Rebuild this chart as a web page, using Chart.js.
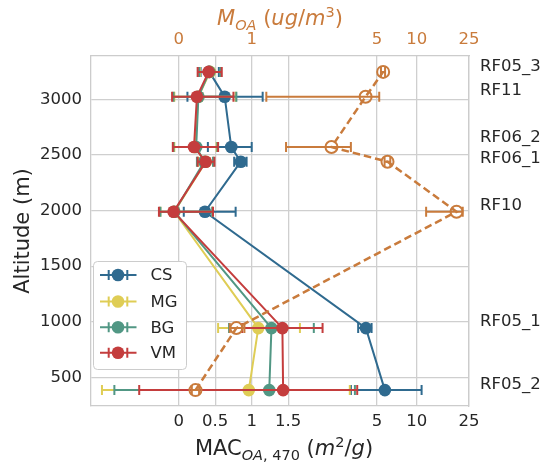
<!DOCTYPE html>
<html>
<head>
<meta charset="utf-8">
<script src="https://cdn.jsdelivr.net/npm/chart.js@4.4.1/dist/chart.umd.min.js"></script>
<style>
  html, body { margin: 0; padding: 0; background: #fff; }
  #wrap { width: 545px; height: 466px; }
</style>
</head>
<body>
<div id="wrap"><canvas id="profile" width="545" height="466"></canvas></div>
<script>
// flights, sorted by altitude (m)
const flights = ['RF05_2', 'RF05_1', 'RF10', 'RF06_1', 'RF06_2', 'RF11', 'RF05_3'];
const altitude = [385, 943, 1990, 2440, 2572, 3025, 3248];
const labelAltitude = [431, 1000, 2043, 2469, 2658, 3083, 3298];

// MAC_OA,470 (m2/g) per source, with lower / upper error ends
const csMac  = [5.73, 4.11, 0.36, 0.85, 0.72, 0.63, 0.42];
const csLow  = [3.16, 3.59, 0.07, 0.76, 0.40, 0.12, 0.30];
const csHigh = [10.9, 4.54, 0.78, 0.93, 1.00, 1.15, 0.55];

const mgMac  = [0.96, 1.09, -0.06, 0.37, 0.22, 0.27, 0.43];
const mgLow  = [-1.05, 0.54, -0.25, 0.27, -0.06, -0.06, 0.29];
const mgHigh = [3.10, 1.66, 0.46, 0.48, 0.52, 0.78, 0.58];

const bgMac  = [1.24, 1.27, -0.06, 0.35, 0.24, 0.27, 0.42];
const bgLow  = [-0.88, 0.69, -0.25, 0.25, -0.07, -0.07, 0.28];
const bgHigh = [3.39, 1.85, 0.46, 0.47, 0.53, 0.79, 0.57];

const vmMac  = [1.43, 1.42, -0.07, 0.37, 0.21, 0.25, 0.41];
const vmLow  = [-0.54, 0.87, -0.27, 0.26, -0.08, -0.09, 0.26];
const vmHigh = [3.53, 1.97, 0.47, 0.49, 0.54, 0.75, 0.59];

// M_OA (ug/m3)
const moa     = [0.23, 0.79, 20.1, 6.0, 2.25, 4.09, 5.56];
const moaLow  = [0.18, 0.70, 11.8, 5.7, 1.47, 1.20, 5.35];
const moaHigh = [0.28, 0.90, 22.4, 6.3, 3.16, 5.19, 5.75];

const macTicks = [0, 0.5, 1, 1.5, 5, 10, 25];
const moaTicks = [0, 1, 5, 10, 25];
const altTicks = [500, 1000, 1500, 2000, 2500, 3000];

const FONT = "'DejaVu Sans', sans-serif";
const INK = '#262626';
const ORANGE = '#c97b3c';
const GRID = '#cfcfcf';

// symmetric log, linthresh 2, linscale 1
const LINTHRESH = 2;
const LINADJ = 1 / (1 - 1 / 10);
function symlog(v) {
  const a = Math.abs(v);
  if (a <= LINTHRESH) return v * LINADJ;
  return Math.sign(v) * LINTHRESH * (LINADJ + Math.log10(a / LINTHRESH));
}
function invSymlog(u) {
  const a = Math.abs(u);
  if (a <= LINTHRESH * LINADJ) return u / LINADJ;
  return Math.sign(u) * LINTHRESH * Math.pow(10, a / LINTHRESH - LINADJ);
}

const tickSets = { x: macTicks, x2: moaTicks };

class SymlogScale extends Chart.LinearScale {
  determineDataLimits() {
    this.min = this.options.min;
    this.max = this.options.max;
  }
  buildTicks() {
    return (tickSets[this.id] || []).map(v => ({ value: v }));
  }
  configure() {
    super.configure();
    this._umin = symlog(this.min);
    this._urange = symlog(this.max) - this._umin;
  }
  getPixelForValue(v) {
    return this.getPixelForDecimal((symlog(v) - this._umin) / this._urange);
  }
  getValueForPixel(p) {
    return invSymlog(this._umin + this.getDecimalForPixel(p) * this._urange);
  }
}
SymlogScale.id = 'symlog';
SymlogScale.defaults = {};
Chart.register(SymlogScale);

function pts(vals) {
  return vals.map((v, i) => ({ x: v, y: altitude[i] }));
}

const series = [
  { label: 'CS', color: '#2f6a8f', vals: csMac, low: csLow, high: csHigh, order: 5 },
  { label: 'MG', color: '#dfcd55', vals: mgMac, low: mgLow, high: mgHigh, order: 4 },
  { label: 'BG', color: '#519784', vals: bgMac, low: bgLow, high: bgHigh, order: 3 },
  { label: 'VM', color: '#c43d3d', vals: vmMac, low: vmLow, high: vmHigh, order: 2 }
];

const datasets = series.map(s => ({
  label: s.label,
  data: pts(s.vals),
  errLow: s.low,
  errHigh: s.high,
  xAxisID: 'x',
  yAxisID: 'y',
  showLine: true,
  borderColor: s.color,
  backgroundColor: s.color,
  borderWidth: 2,
  pointRadius: 6.3,
  pointBorderWidth: 0,
  pointBackgroundColor: s.color,
  order: s.order
}));

datasets.push({
  label: 'M_OA',
  data: pts(moa),
  errLow: moaLow,
  errHigh: moaHigh,
  xAxisID: 'x2',
  yAxisID: 'y',
  showLine: true,
  borderColor: ORANGE,
  borderWidth: 2.5,
  borderDash: [7.5, 4],
  pointRadius: 6,
  pointBorderWidth: 2,
  pointBorderColor: ORANGE,
  pointBackgroundColor: 'rgba(0,0,0,0)',
  order: 1
});

// error bars drawn just under each dataset's own line and markers
const errorBars = {
  id: 'errorBars',
  beforeDatasetDraw(chart, args) {
    const ds = chart.data.datasets[args.index];
    if (!ds.errLow) return;
    const ctx = chart.ctx;
    const xs = chart.scales[ds.xAxisID];
    const ys = chart.scales.y;
    ctx.save();
    ctx.strokeStyle = ds.borderColor;
    ctx.lineWidth = 2;
    ctx.setLineDash([]);
    ds.data.forEach((p, i) => {
      const y = ys.getPixelForValue(p.y);
      const x1 = xs.getPixelForValue(ds.errLow[i]);
      const x2 = xs.getPixelForValue(ds.errHigh[i]);
      ctx.beginPath();
      ctx.moveTo(x1, y); ctx.lineTo(x2, y);
      ctx.moveTo(x1, y - 5); ctx.lineTo(x1, y + 5);
      ctx.moveTo(x2, y - 5); ctx.lineTo(x2, y + 5);
      ctx.stroke();
    });
    ctx.restore();
  }
};

// draws a row of text pieces (for sub/superscripts) centred on cx
function drawRich(ctx, parts, cx, baseY, color) {
  let total = 0;
  parts.forEach(p => {
    ctx.font = (p.italic ? 'italic ' : '') + p.size + 'px ' + FONT;
    p.w = ctx.measureText(p.t).width;
    total += p.w;
  });
  let x = cx - total / 2;
  ctx.fillStyle = color;
  ctx.textAlign = 'left';
  ctx.textBaseline = 'alphabetic';
  parts.forEach(p => {
    ctx.font = (p.italic ? 'italic ' : '') + p.size + 'px ' + FONT;
    ctx.fillText(p.t, x, baseY + (p.dy || 0));
    x += p.w;
  });
}

const titles = {
  id: 'titles',
  afterDraw(chart) {
    const ctx = chart.ctx;
    const a = chart.chartArea;
    ctx.save();
    ctx.font = '21px ' + FONT;
    ctx.fillStyle = INK;
    ctx.textAlign = 'center';
    ctx.textBaseline = 'middle';
    ctx.translate(24, 231);
    ctx.rotate(-Math.PI / 2);
    ctx.fillText('Altitude (m)', 0, 0);
    ctx.restore();

    ctx.save();
    const big = 21, small = 14.5;
    drawRich(ctx, [
      { t: 'MAC', size: big },
      { t: 'OA', size: small, italic: true, dy: 5 },
      { t: ', 470', size: small, dy: 5 },
      { t: ' (', size: big },
      { t: 'm', size: big, italic: true },
      { t: '2', size: small, dy: -8 },
      { t: '/', size: big },
      { t: 'g', size: big, italic: true },
      { t: ')', size: big }
    ], (a.left + a.right) / 2 + 4, 455, INK);

    drawRich(ctx, [
      { t: 'M', size: big, italic: true },
      { t: 'OA', size: small, italic: true, dy: 5 },
      { t: ' (', size: big },
      { t: 'ug', size: big, italic: true },
      { t: '/', size: big },
      { t: 'm', size: big, italic: true },
      { t: '3', size: small, dy: -8 },
      { t: ')', size: big }
    ], (a.left + a.right) / 2, 25, ORANGE);
    ctx.restore();
  }
};

const legendBox = {
  id: 'legendBox',
  afterDraw(chart) {
    const ctx = chart.ctx;
    ctx.save();
    ctx.beginPath();
    ctx.roundRect(93.5, 261.5, 93, 108, 4);
    ctx.fillStyle = '#ffffff';
    ctx.fill();
    ctx.strokeStyle = '#cccccc';
    ctx.lineWidth = 1;
    ctx.stroke();
    const rowY = [275, 301.5, 327.3, 352.7];
    series.forEach((s, i) => {
      const y = rowY[i];
      ctx.strokeStyle = s.color;
      ctx.lineWidth = 2;
      ctx.beginPath();
      ctx.moveTo(100, y); ctx.lineTo(136.5, y);
      ctx.moveTo(108.7, y - 5); ctx.lineTo(108.7, y + 5);
      ctx.moveTo(127.3, y - 5); ctx.lineTo(127.3, y + 5);
      ctx.stroke();
      ctx.fillStyle = s.color;
      ctx.beginPath();
      ctx.arc(118, y, 6.3, 0, Math.PI * 2);
      ctx.fill();
      ctx.fillStyle = INK;
      ctx.font = '16.5px ' + FONT;
      ctx.textAlign = 'left';
      ctx.textBaseline = 'middle';
      ctx.fillText(s.label, 150.5, y + 1);
    });
    ctx.restore();
  }
};

const tickFont = { family: FONT, size: 16.5 };
const border = { display: true, color: '#cccccc', width: 1.3 };

new Chart(document.getElementById('profile'), {
  type: 'scatter',
  data: { datasets: datasets },
  options: {
    responsive: false,
    animation: false,
    layout: { padding: 0 },
    plugins: { legend: { display: false }, tooltip: { enabled: false } },
    scales: {
      x: {
        type: 'symlog', position: 'bottom', min: -1.2, max: 25,
        grid: { color: GRID, lineWidth: 1.3, drawTicks: false },
        border: border,
        ticks: { font: tickFont, color: INK, padding: 6, autoSkip: false, maxRotation: 0,
                 callback: v => String(v) },
        afterFit: s => { s.height = 60; }
      },
      x2: {
        type: 'symlog', position: 'top', min: -1.2, max: 25,
        grid: { display: false, drawTicks: false },
        border: border,
        ticks: { font: tickFont, color: ORANGE, padding: 6, autoSkip: false, maxRotation: 0,
                 callback: v => String(v) },
        afterFit: s => { s.height = 56; }
      },
      y: {
        type: 'linear', position: 'left', min: 242, max: 3391,
        grid: { color: GRID, lineWidth: 1.3, drawTicks: false },
        border: border,
        afterBuildTicks: s => { s.ticks = altTicks.map(v => ({ value: v })); },
        ticks: { font: tickFont, color: INK, padding: 9, callback: v => String(v) },
        afterFit: s => { s.width = 91; }
      },
      yr: {
        type: 'linear', position: 'right', min: 242, max: 3391,
        grid: { display: false, drawTicks: false },
        border: border,
        afterBuildTicks: s => { s.ticks = labelAltitude.map(v => ({ value: v })); },
        ticks: { font: tickFont, color: INK, padding: 11, autoSkip: false,
                 callback: v => flights[labelAltitude.indexOf(v)] },
        afterFit: s => { s.width = 76; }
      }
    }
  },
  plugins: [errorBars, titles, legendBox]
});
</script>
</body>
</html>
